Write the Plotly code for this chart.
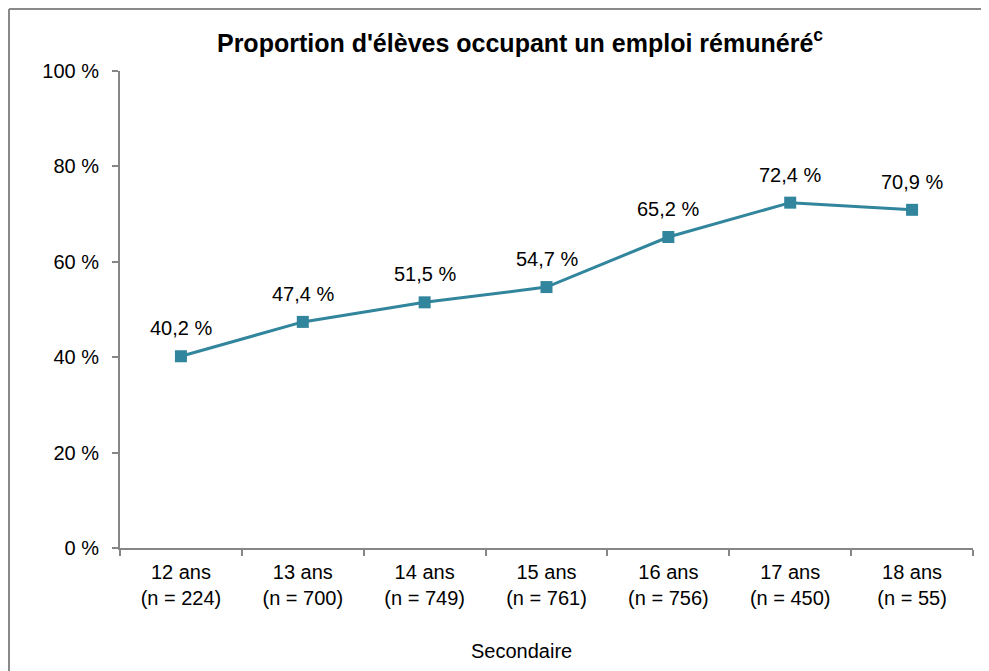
import plotly.graph_objects as go

categories = ["12 ans<br>(n = 224)", "13 ans<br>(n = 700)", "14 ans<br>(n = 749)",
              "15 ans<br>(n = 761)", "16 ans<br>(n = 756)", "17 ans<br>(n = 450)",
              "18 ans<br>(n = 55)"]
values = [40.2, 47.4, 51.5, 54.7, 65.2, 72.4, 70.9]
labels = ["40,2 %", "47,4 %", "51,5 %", "54,7 %", "65,2 %", "72,4 %", "70,9 %"]
y_ticks = [0, 20, 40, 60, 80, 100]
y_tick_text = ["0 %", "20 %", "40 %", "60 %", "80 %", "100 %"]

FONT = "Liberation Sans, Arial, sans-serif"
COLOR = "#31859C"
AXIS = "#868686"

W, H = 981, 663
L, R, T, B = 112, 16, 63, 123
PW, PH = W - L - R, H - T - B

fig = go.Figure()
fig.add_trace(go.Scatter(
    x=categories, y=values, mode="lines+markers",
    line=dict(color=COLOR, width=3),
    marker=dict(symbol="square", size=12, color=COLOR),
    cliponaxis=False, showlegend=False,
))

annotations = [dict(x=c, y=v, text=t, xref="x", yref="y", showarrow=False,
                    yshift=28, xanchor="center", yanchor="middle",
                    font=dict(family=FONT, size=20, color="#000000"))
               for c, v, t in zip(categories, values, labels)]
annotations.append(dict(text="Secondaire", xref="paper", yref="paper",
                        x=(513 - L) / PW, y=(H - B - 643) / PH,
                        xanchor="center", yanchor="middle", showarrow=False,
                        font=dict(family=FONT, size=20, color="#000000")))

fig.update_layout(
    width=W, height=H,
    margin=dict(l=L, r=R, t=T, b=B),
    paper_bgcolor="white", plot_bgcolor="white",
    font=dict(family=FONT, size=20, color="#000000"),
    title=dict(text="<b>Proportion d'élèves occupant un emploi rémunéré<sup>c</sup></b>",
               x=512 / W, xanchor="center", xref="container",
               y=1 - 35 / H, yanchor="middle", yref="container",
               font=dict(family=FONT, size=25, color="#000000")),
    xaxis=dict(type="category", range=[-0.5, 6.5], tickson="boundaries",
               showline=True, linecolor=AXIS, linewidth=2,
               ticks="outside", ticklen=6, tickcolor=AXIS, tickwidth=2,
               ticklabelstandoff=5,
               showgrid=False, zeroline=False,
               tickfont=dict(family=FONT, size=20, color="#000000")),
    yaxis=dict(range=[0, 100], tickvals=y_ticks, ticktext=y_tick_text,
               showline=True, linecolor=AXIS, linewidth=2,
               ticks="outside", ticklen=6, tickcolor=AXIS, tickwidth=2,
               ticklabelstandoff=9,
               showgrid=False, zeroline=False,
               tickfont=dict(family=FONT, size=20, color="#000000")),
    annotations=annotations,
    shapes=[
        dict(type="line", xref="paper", yref="paper",
             x0=(1 - L) / PW, x1=(W + 20 - L) / PW,
             y0=(H - B - 1) / PH, y1=(H - B - 1) / PH,
             line=dict(color="#898989", width=2)),
        dict(type="line", xref="paper", yref="paper",
             x0=(1 - L) / PW, x1=(1 - L) / PW,
             y0=(H - B - 1) / PH, y1=(H - B - H - 20) / PH,
             line=dict(color="#898989", width=2)),
    ],
)

fig.write_html("out.html")
